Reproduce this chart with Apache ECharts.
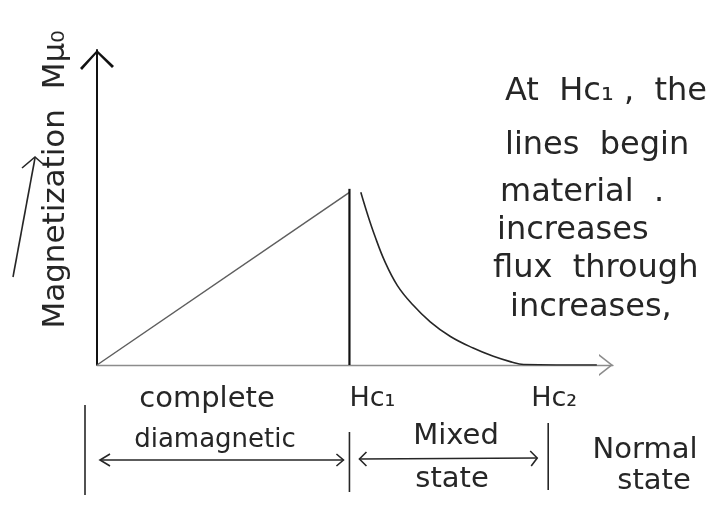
<!DOCTYPE html>
<html>
<head>
<meta charset="utf-8">
<script src="https://cdn.jsdelivr.net/npm/echarts@6/dist/echarts.min.js"></script>
<style>
  html, body { margin: 0; padding: 0; background: #fff; }
  #chart { width: 723px; height: 507px; }
</style>
</head>
<body>
<div id="chart"></div>
<script>
// Field values (in units of Hc1) and magnetization (peak = 1)
const HC1 = 1.0;
const HC2 = 1.72;
const riseField = [0, 1.0];
const riseMag = [0, 1.0];
const dropField = [1.0, 1.0];
const dropMag = [1.02, 0];
const decayField = [1.045, 1.07, 1.10, 1.14, 1.19, 1.25, 1.32, 1.40, 1.49, 1.57, 1.64, 1.69, 1.98];
const decayMag = [1.0, 0.88, 0.75, 0.60, 0.46, 0.35, 0.25, 0.165, 0.098, 0.05, 0.018, 0.003, 0];
const fieldLabels = [[HC1, 'Hc\u2081'], [HC2, 'Hc\u2082']];
const noteLines = ['At  Hc\u2081 ,  the', 'lines  begin', 'material  .', 'increases', 'flux  through', 'increases,'];

const FONT = '"DejaVu Sans", sans-serif';
const WEIGHT = 'normal';
const INK = '#262626';

const zip = (a, b) => a.map((v, i) => [v, b[i]]);
const labelFor = v => {
  const hit = fieldLabels.find(p => Math.abs(p[0] - v) < 1e-6);
  return hit ? hit[1] : '';
};

// open chevron heads for the axis ends (pointing up in symbol space)
const yHead = 'path://M17,0 L34,16 L32,18 L17,3 L2,20 L0,18 Z';
const xHead = 'path://M11,0 L22,14 L20,14 L11,2.5 L2,14 L0,14 Z';

const chart = echarts.init(document.getElementById('chart'), null, { renderer: 'canvas' });

chart.setOption({
  animation: false,
  backgroundColor: '#fff',
  grid: { left: 97, right: 110, top: 50, bottom: 142 },
  xAxis: {
    type: 'value', min: 0, max: 2.044, interval: 0.04,
    splitLine: { show: false },
    axisTick: { show: false },
    axisLine: {
      lineStyle: { color: '#8c8c8c', width: 1.3 },
      symbol: ['none', xHead], symbolSize: [22, 14], symbolOffset: [0, -7]
    },
    axisLabel: {
      showMaxLabel: false, margin: 20, align: 'left',
      formatter: labelFor,
      fontFamily: FONT, fontWeight: WEIGHT, fontSize: 27, color: INK
    }
  },
  yAxis: {
    type: 'value', min: 0, max: 1.824,
    splitLine: { show: false },
    axisTick: { show: false },
    axisLabel: { show: false },
    axisLine: {
      lineStyle: { color: '#111', width: 2 },
      symbol: ['none', yHead], symbolSize: [34, 20], symbolOffset: [0, -10]
    },
    name: 'Magnetization  M\u03bc\u2080',
    nameLocation: 'middle', nameGap: 26, nameRotate: 90,
    nameTextStyle: { fontFamily: FONT, fontWeight: WEIGHT, fontSize: 31, color: INK, padding: [0, 0, 0, 56] }
  },
  series: [
    { type: 'line', data: zip(riseField, riseMag), showSymbol: false,
      lineStyle: { color: '#5e5e5e', width: 1.5 } },
    { type: 'line', data: zip(dropField, dropMag), showSymbol: false,
      lineStyle: { color: '#111', width: 2.2 } },
    { type: 'line', data: zip(decayField, decayMag), showSymbol: false, smooth: 0.4,
      lineStyle: { color: '#262626', width: 1.6 } }
  ]
});

// annotations placed from the field scale
const px = v => chart.convertToPixel({ xAxisIndex: 0 }, v);
const x0 = px(0), x1 = px(HC1), x2 = px(HC2);
const stroke = { stroke: INK, lineWidth: 1.6, fill: null };
const txt = (text, x, y, size, align) => ({
  type: 'text', x, y,
  style: { text, fontFamily: FONT, fontWeight: WEIGHT, fontSize: size, fill: INK,
           align: align || 'center', verticalAlign: 'middle' }
});
const seg = (xa, ya, xb, yb) => ({ type: 'line', shape: { x1: xa, y1: ya, x2: xb, y2: yb }, style: stroke });
const poly = pts => ({ type: 'polyline', shape: { points: pts }, style: stroke });

const ay = 460;
const elements = [
  // arrow beside the vertical axis title
  poly([[13, 277], [35, 158]]),
  poly([[22, 168], [35, 157], [43, 164]]),
  // region separators
  seg(x0 - 12, 405, x0 - 12, 495),
  seg(x1, 432, x1, 492),
  seg(x2 + 17, 423, x2 + 17, 490),
  // complete diamagnetic span
  seg(x0 + 3, ay, x1 - 6, ay),
  poly([[x0 + 13, ay - 6], [x0 + 3, ay], [x0 + 13, ay + 6]]),
  poly([[x1 - 13, ay - 6], [x1 - 6, ay], [x1 - 13, ay + 6]]),
  // mixed state span
  seg(x1 + 10, ay - 1, x2 + 6, ay - 2),
  poly([[x1 + 17, ay - 8], [x1 + 10, ay - 1], [x1 + 17, ay + 6]]),
  poly([[x2 - 1, ay - 9], [x2 + 6, ay - 2], [x2, ay + 6]]),
  txt('complete', 207, 399, 29),
  txt('diamagnetic', 215, 440, 26),
  txt('Mixed', 456, 436, 29),
  txt('state', 452, 479, 29),
  txt('Normal', 645, 450, 29),
  txt('state', 654, 481, 29)
];
const noteX = [505, 505, 500, 497, 493, 510];
const noteY = [92, 146, 193, 231, 269, 308];
noteLines.forEach((t, i) => elements.push(txt(t, noteX[i], noteY[i], 32, 'left')));

chart.setOption({ graphic: { elements } });
</script>
</body>
</html>
